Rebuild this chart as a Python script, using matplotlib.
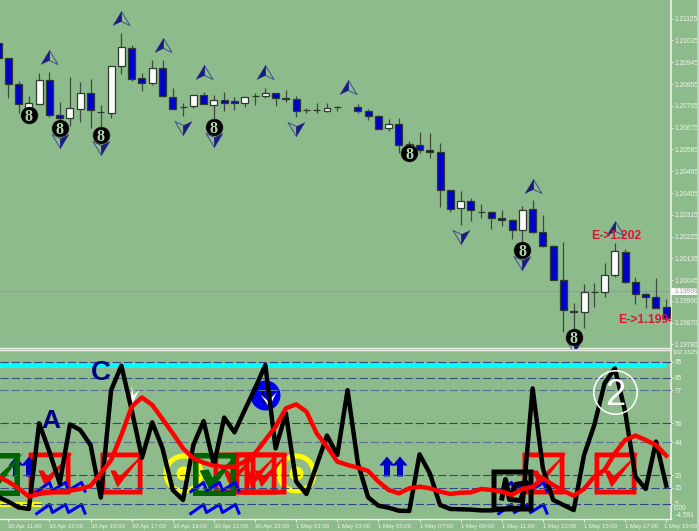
import numpy as np
import matplotlib
matplotlib.use("Agg")
import matplotlib.pyplot as plt
from matplotlib.path import Path
from matplotlib.patches import Rectangle
from matplotlib.transforms import ScaledTranslation

nan = float("nan")
# ---- data: bars from -1 (just before 30 Apr 11:00) to 64 (1 May 19:00), 30 minute bars
bar_index = list(range(-1, 65))
opens = [1.21024,1.20963,1.20856,1.20757,1.20774,1.20872,1.20727,1.20715,1.20752,1.20818,1.20741,1.20736,1.20930,
         1.21004,1.20880,1.20859,1.20921,1.20802,1.20760,1.20764,1.20810,1.20769,1.20789,1.20785,1.20777,1.20806,
         1.20806,1.20818,1.20797,1.20793,1.20748,1.20748,1.20744,1.20760,nan,1.20759,1.20745,1.20724,1.20674,
         1.20690,1.20595,1.20603,1.20583,1.20575,1.20418,1.20343,1.20372,1.20327,1.20327,1.20302,1.20294,1.20253,
         1.20339,1.20244,1.20187,1.20046,1.19918,1.19914,1.19997,1.19997,1.20067,1.20162,1.20038,1.19988,1.19976,1.19935]
highs = [1.21024,1.20963,1.20868,1.20806,1.20901,1.20905,1.20781,1.20884,1.20864,1.20876,1.20769,1.20930,1.21066,
         1.21016,1.20901,1.20954,1.20954,1.20839,1.20777,1.20810,1.20822,1.20810,1.20822,1.20802,1.20802,1.20818,
         1.20839,1.20818,1.20830,1.20806,1.20756,1.20777,1.20777,1.20764,nan,1.20773,1.20752,1.20727,1.20711,
         1.20715,1.20620,1.20657,1.20653,1.20612,1.20418,1.20414,1.20385,1.20360,1.20331,1.20335,1.20298,1.20352,
         1.20376,1.20314,1.20191,1.20203,1.19951,1.20030,1.20034,1.20116,1.20199,1.20174,1.20059,1.19992,1.20054,1.19968]
lows = [1.20963,1.20797,1.20736,1.20719,1.20773,1.20719,1.20694,1.20682,1.20698,1.20674,1.20678,1.20715,1.20897,
        1.20868,1.20826,1.20851,1.20802,1.20752,1.20723,1.20756,1.20773,1.20678,1.20744,1.20748,1.20760,1.20769,
        1.20797,1.20764,1.20781,1.20719,1.20736,1.20736,1.20740,1.20744,nan,1.20736,1.20707,1.20669,1.20661,
        1.20570,1.20554,1.20570,1.20550,1.20347,1.20327,1.20273,1.20290,1.20302,1.20257,1.20269,1.20215,1.20158,
        1.20240,1.20182,1.20046,1.19832,1.19811,1.19848,1.19935,1.19976,1.20059,1.20034,1.19947,1.19931,1.19931,1.19881]
closes = [1.20963,1.20856,1.20774,1.20775,1.20872,1.20727,1.20715,1.20756,1.20818,1.20748,1.20741,1.20930,1.21008,
          1.20876,1.20859,1.20921,1.20806,1.20752,1.20760,1.20810,1.20773,1.20789,1.20777,1.20777,1.20802,1.20806,
          1.20818,1.20797,1.20793,1.20744,1.20748,1.20748,1.20756,1.20760,nan,1.20744,1.20723,1.20671,1.20690,
          1.20603,1.20608,1.20583,1.20575,1.20418,1.20339,1.20372,1.20335,1.20327,1.20302,1.20294,1.20253,1.20335,
          1.20244,1.20187,1.20046,1.19922,1.19914,1.19997,1.19997,1.20067,1.20166,1.20038,1.19988,1.19976,1.19931,1.19889]

black_line = [9.5,6.3,2.7,1.7,56,38,17.9,55.3,51.7,42.2,8.9,77,92.5,64.4,34.2,56.6,40.1,13.7,7.4,42.2,57.4,29.6,59.6,
              50.3,64.4,78.1,92.9,40.1,62.3,19,11.2,29.6,48.2,35.9,77,30.6,9.1,3.8,2.5,0.6,0.4,36.3,24.3,4.2,1.7,1.5,
              1.3,0.8,0.8,1.5,2.1,2.5,78.1,27.4,7.4,4.2,1,35.9,54.9,81.3,90.8,63.4,22.2,14.4,44.4,16.5]
red_line = [22.2,19,14.8,9.5,11.2,12.2,12.7,13.3,14.4,16.3,24.3,32.7,48.6,66.5,72.4,67.6,58.7,49.6,40.1,33.8,31,29.1,
            28.3,28.5,31.7,37,45.4,53.9,65.5,68,63.4,49.6,41.2,31.7,29.6,27.9,25.8,19,13.7,11.6,14.8,15.8,14.8,12.7,
            11.2,12,12.2,14.4,13.7,12.7,10.6,14.4,15.8,21.1,16.9,13.1,10.1,14.4,22.2,26.4,37,45.4,48.2,45.4,42.2,35.5]
cyan_level = 93.2
levels = [95, 85, 77, 56, 44, 23, 15, 5]
level_colors = ["#2f4585", "#35507f", "#5c6f8c", "#2f4585", "#5c6f8c", "#2f4585", "#2f4585", "#2f4585"]

up_x = [4, 11, 15, 19, 25, 33, 51, 59]
up_y = [1.20967, 1.21128, 1.21016, 1.20905, 1.20905, 1.20843, 1.20435, 1.20261]
down_x = [5, 9, 17, 20, 28, 44, 50, 55]
down_y = [1.20620, 1.20591, 1.20674, 1.20624, 1.20669, 1.20224, 1.20116, 1.19772]
eight_x = [2, 5, 9, 20, 39, 50, 55]
eight_y = [1.20727, 1.20675, 1.20645, 1.20679, 1.20570, 1.20170, 1.19811]

price_ticks = [1.21125,1.21035,1.20945,1.20855,1.20765,1.20675,1.20585,1.20495,1.20405,1.20315,1.20225,1.20135,
               1.20045,1.19960,1.19870,1.19780]
current_price = 1.19999
time_ticks = list(range(0, 65, 4))
time_labels = ["30 Apr 11:00","30 Apr 13:00","30 Apr 15:00","30 Apr 17:00","30 Apr 19:00","30 Apr 21:00","30 Apr 23:00",
               "1 May 01:00","1 May 03:00","1 May 05:00","1 May 07:00","1 May 09:00","1 May 11:00","1 May 13:00",
               "1 May 15:00","1 May 17:00","1 May 19:00"]
red_box_x = [4, 11, 22, 24, 25, 52, 59]
red_box_y = [24.3] * 7
green_box_x = [-1, 20]
green_box_y = [24, 24]
black_box_x = [49]
black_box_y = [13.7]
ring_x = [17, 28]
ring_y = [24.5, 24.5]
zig_x = [5, 5, 20, 20, 50, 50]
zig_y = [15.6, 1.6, 15.6, 1.6, 15.6, 1.6]
double_arrow_x = [1.3, 37.45]
double_arrow_y = [28.9, 28.9]
white_v_x = [12, 25.4]
white_v_y = [72.5, 70.5]
yellow_dash_x = [-1, 3.2]
yellow_dash_y = [5.1, 5.1]

BG = "#8dbb8c"
W, H = 699, 531
R = 671
LINE = "#eef3ea"
plt.rcParams["font.family"] = ["Liberation Sans", "DejaVu Sans"]

fig = plt.figure(figsize=(W / 100, H / 100), dpi=100, facecolor=BG)
ax = fig.add_axes([0, 1 - 348 / H, R / W, 348 / H], facecolor=BG)
ax2 = fig.add_axes([0, 1 - 518.9 / H, R / W, (518.9 - 350.4) / H], facecolor=BG)
fig.add_artist(Rectangle((697.3 / W, 0), 1.7 / W, 1, transform=fig.transFigure, color="#bcd6ba", lw=0))

xlim = (-0.807, 64.46)
ax.set_xlim(xlim)
ax.set_ylim(1.19765, 1.21202)
ax2.set_xlim(xlim)
ax2.set_ylim(-4.591, 102.1825)

PX = 0.72  # points per pixel at 100 dpi


def make_path(polys):
    """polys: list of (vertices, closed) in pixels around the marker centre."""
    verts, codes = [], []
    for pts, closed in polys:
        verts += list(pts)
        codes += [Path.MOVETO] + [Path.LINETO] * (len(pts) - 1)
        if closed:
            verts.append(pts[0])
            codes.append(Path.CLOSEPOLY)
    return Path(np.array(verts, float), codes)


def size_of(path):
    return 2 * np.abs(path.vertices).max() * PX


# ---- candles
o = np.array(opens)
h = np.array(highs)
l = np.array(lows)
c = np.array(closes)
xb = np.array(bar_index)
ok = ~np.isnan(o)
ax.vlines(xb[ok], l[ok], h[ok], colors="#3d4a3d", lw=0.9, zorder=2)
colors = ["#ffffff" if cc > oo else "#0000cc" for oo, cc in zip(o[ok], c[ok])]
ax.bar(xb[ok], np.abs(c[ok] - o[ok]), bottom=np.minimum(o[ok], c[ok]), width=0.68, color=colors,
       edgecolor="#2f3a2f", linewidth=0.9, zorder=3)

# ---- arrows
NAVY = "#1c1c80"
up_fill = make_path([([(0, 7), (-8.5, -7), (0, -3)], True)])
up_open = make_path([([(0, 7), (8.5, -7), (0, -3)], True), ([(-8.5, 0), (-8.5, 0)], False)])
down_fill = make_path([([(0, -7), (8.5, 7), (0, 3)], True)])
down_open = make_path([([(0, -7), (-8.5, 7), (0, 3)], True), ([(8.5, 0), (8.5, 0)], False)])
ms_a = 17 * PX
for xs, ys, fp, op in ((up_x, up_y, up_fill, up_open), (down_x, down_y, down_fill, down_open)):
    ax.plot(xs, ys, ls="none", marker=op, ms=ms_a, mfc="none", mec="#3c4f8f", mew=0.7, zorder=4)
    ax.plot(xs, ys, ls="none", marker=fp, ms=ms_a, mfc=NAVY, mec=NAVY, mew=0.2, zorder=5)

# ---- 8 badges
ax.plot(eight_x, eight_y, ls="none", marker="o", ms=17 * PX, mfc="black", mec="#2a2a10", mew=0.3, zorder=6)
for xi, yi in zip(eight_x, eight_y):
    ax.text(xi, yi, "8", ha="center", va="center_baseline", family="Liberation Serif", weight="bold",
            fontsize=11.5, color="#b4d6ac", zorder=7)

# ---- current price, texts
ax.axhline(current_price, color="#8d9fa8", lw=1.0, zorder=1.5)
ax.text(56.7, 1.20226, "E->1.202", color="#dc143c", fontsize=8.8, weight="bold", va="center", ha="left", zorder=8,
        clip_on=True)
ax.text(59.3, 1.19881, "E->1.1994", color="#dc143c", fontsize=8.8, weight="bold", va="center", ha="left", zorder=8,
        clip_on=True)

# ---- lower panel levels
for lv, col in zip(levels, level_colors):
    ax2.axhline(lv, color=col, lw=0.8, dashes=(7.5, 2.6), zorder=2.8)
ax2.plot([-1, 64], [cyan_level, cyan_level], color="#00ffff", lw=3.4, solid_capstyle="butt", zorder=2)

# ---- yellow rings
YEL = "#ffff00"
ax2.plot(ring_x, ring_y, ls="none", marker="o", ms=35 * PX, mfc="none", mec=YEL, mew=5 * PX, zorder=1)
ax2.plot(ring_x, ring_y, ls="none", marker="o", ms=14 * PX, mfc=YEL, mec=YEL, mew=0, zorder=1)
ax2.plot(yellow_dash_x, yellow_dash_y, color=YEL, lw=3.5, solid_capstyle="butt", zorder=1)

# ---- check boxes
CHECK = [(-11, 3), (-6, 3), (-2, -3), (24, 22), (-4, -14)]


def checkbox(half, stroke, check=CHECK):
    a, b = half, half - stroke
    return make_path([([(-a, -a), (a, -a), (a, a), (-a, a)], True),
                      ([(-b, -b), (-b, b), (b, b), (b, -b)], True),
                      ([(q, r) for q, r in reversed(check)], True)])


red_m = checkbox(21, 4.8)
ax2.plot(red_box_x, red_box_y, ls="none", marker=red_m, ms=size_of(red_m), mfc="#ff0000", mec="none", zorder=2.2)
green_m = checkbox(21.5, 5.5, [(-15, 4), (-6, 5), (-2, -3), (25, 22), (-4, -17)])
ax2.plot(green_box_x, green_box_y, ls="none", marker=green_m, ms=size_of(green_m), mfc="#006400", mec="none",
         zorder=2.5)
black_m = make_path([([(-21.5, -21.5), (21.5, -21.5), (21.5, 21.5), (-21.5, 21.5)], True),
                     ([(-16.5, -16.5), (-16.5, 16.5), (16.5, 16.5), (16.5, -16.5)], True)])
ax2.plot(black_box_x, black_box_y, ls="none", marker=black_m, ms=size_of(black_m), mfc="black", mec="none", zorder=3)
scrib = make_path([([(-11, -10), (-7, 11), (-3, -9), (8, -10), (14, 8), (3, 6), (-3, -9)], False)])
ax2.plot(black_box_x, black_box_y, ls="none", marker=scrib, ms=size_of(scrib), mfc="none", mec="black", mew=3.6,
         zorder=3)

# ---- blue zigzags
zig = make_path([([(-25, -5), (-11, 5), (-8, -3), (5, 5), (8, -3), (21, 5), (25, -5)], False)])
ax2.plot(zig_x, zig_y, ls="none", marker=zig, ms=size_of(zig), mfc="none", mec="#0000f0", mew=2.2, zorder=2.6)


# ---- double up arrows
def arrow_pts(cx):
    return [(cx, 10), (cx + 7.5, 1), (cx + 3, 1), (cx + 3, -10), (cx - 3, -10), (cx - 3, 1), (cx - 7.5, 1)]


dbl = make_path([(arrow_pts(-6.5), True), (arrow_pts(6.5), True)])
ax2.plot(double_arrow_x, double_arrow_y, ls="none", marker=dbl, ms=size_of(dbl), mfc="#0000c8", mec="none", zorder=2.4)

# ---- 5 badge and white ticks
ax2.plot([25], [73.9], ls="none", marker="o", ms=30 * PX, mfc="#0000ee", mec="none", zorder=2.6)
ax2.text(25, 73.9, "5", color="#000070", fontsize=15, weight="bold", ha="center", va="center_baseline", zorder=2.7)
vee = make_path([([(-9, 6), (-2, -4), (0, -6), (7, 8), (1, 2), (-1, 12), (-1, 1), (-2, 0)], True)])
ax2.plot(white_v_x, white_v_y, ls="none", marker=vee, ms=size_of(vee), mfc="#ffffff", mec="none", zorder=2.9)

# ---- indicator lines
ax2.plot(bar_index, black_line, color="black", lw=3.2, solid_joinstyle="round", zorder=3.2)
ax2.plot(bar_index, red_line, color="#ff0000", lw=3.2, solid_joinstyle="round", zorder=3.4)

# ---- letters and circled 2
ax2.text(4.15, 57.4, "A", color="#000080", fontsize=19, weight="bold", ha="center", va="center", zorder=4)
ax2.text(8.97, 87.8, "C", color="#000080", fontsize=20, weight="bold", ha="center", va="center", zorder=4)
ax2.plot([59], [76], ls="none", marker="o", ms=43.4 * PX, mfc="none", mec="white", mew=1.6 * PX, zorder=5)
ax2.text(59, 76, "2", color="white", fontsize=26, family="Liberation Sans", ha="center", va="center_baseline", zorder=5)

# ---- axes dressing
LAB = "#f0f5ea"
FS = 4.8
FSX = 4.35
for a in (ax, ax2):
    for s in a.spines.values():
        s.set_visible(False)
    a.spines["right"].set_visible(True)
    a.spines["right"].set_color(LINE)
    a.spines["right"].set_linewidth(1.2)
ax.spines["bottom"].set_visible(True)
ax.spines["bottom"].set_color(LINE)
ax.spines["bottom"].set_linewidth(1.0)
ax2.spines["top"].set_visible(True)
ax2.spines["top"].set_color(LINE)
ax2.spines["top"].set_linewidth(1.0)
ax2.spines["bottom"].set_visible(True)
ax2.spines["bottom"].set_color(LINE)
ax2.spines["bottom"].set_linewidth(1.0)

ax.set_xticks([])
ax.yaxis.tick_right()
ax.set_yticks(price_ticks)
ax.set_yticklabels([f"{p:.5f}" for p in price_ticks])
ax.tick_params(axis="y", length=1.6, width=0.6, color=LINE, labelsize=FS, labelcolor=LAB, pad=1.0)

ax2.yaxis.tick_right()
ax2.set_yticks(levels)
ax2.set_yticklabels([str(v) for v in levels])
ax2.tick_params(axis="y", length=1.6, width=0.6, color=LINE, labelsize=FS, labelcolor=LAB, pad=1.0)
ax2.set_xticks(time_ticks)
ax2.set_xticklabels(time_labels, ha="left")
ax2.tick_params(axis="x", length=2.2, width=0.6, color=LINE, labelsize=FSX, labelcolor=LAB, pad=1.4)
last = ax2.get_xticklabels()[-1]
last.set_transform(last.get_transform() + ScaledTranslation(-2 / 100, 0, fig.dpi_scale_trans))
yt = ax2.get_yaxis_transform()
ax2.text(1.002, 102.1825, "102.1825", transform=yt, fontsize=4.4, color=LAB, va="top", ha="left", clip_on=False)
ax2.text(1.004, 0, "0.00", transform=yt, fontsize=FS, color=LAB, va="bottom", ha="left", clip_on=False)
ax2.text(1.007, -4.591, "-4.591", transform=yt, fontsize=FS, color=LAB, va="bottom", ha="left", clip_on=False)

# ---- current price tag
yt1 = ax.get_yaxis_transform()
ax.add_patch(Rectangle((1.0, current_price - 0.00014), 0.042, 0.00028, transform=yt1, facecolor="#f7f9f5",
                       edgecolor="none", clip_on=False, zorder=6))
ax.text(1.006, current_price, f"{current_price:.5f}", transform=yt1, fontsize=FS, color="#9aa59a", va="center",
        ha="left", clip_on=False, zorder=7)

fig.savefig("out.png", dpi=100, facecolor=BG)
